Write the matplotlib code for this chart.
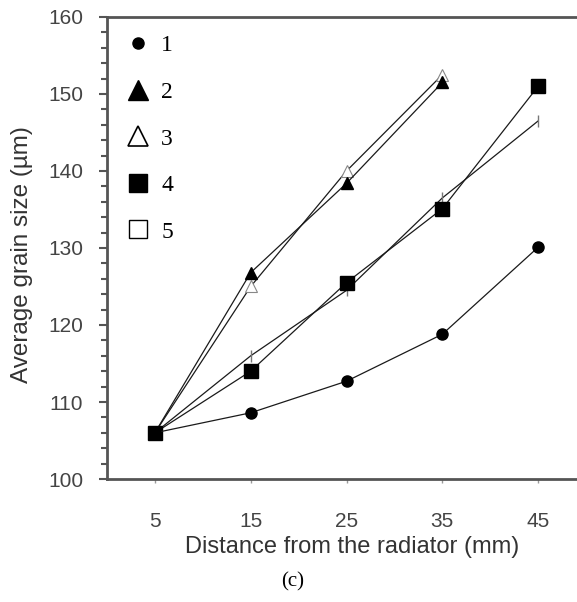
import matplotlib.pyplot as plt
from matplotlib.lines import Line2D
from matplotlib.ticker import MultipleLocator

# data
distance = [5, 15, 25, 35, 45]
size1 = [106, 108.6, 112.7, 118.8, 130.1]
size2 = [106, 126.8, 138.4, 151.5]
size3 = [106, 125.0, 140.0, 152.5]
size4 = [106, 114.0, 125.5, 135.1, 151.0]
size5 = [106, 116.0, 124.5, 136.5, 146.5]
labels = ['1', '2', '3', '4', '5']
yticks = [100, 110, 120, 130, 140, 150, 160]

fig = plt.figure(figsize=(5.77, 6.02), dpi=100)
ax = fig.add_axes([0.1854, 0.2043, 0.8303, 0.7675])

lc = '#1a1a1a'
ax.plot(distance, size5, color=lc, lw=0.9, marker='|', ms=8, mec='#777777', mew=1.0)
ax.plot(distance[:4], size3, color=lc, lw=0.9, marker='^', ms=9, mfc='white', mec='#888888', mew=0.8)
ax.plot(distance[:4], size2, color=lc, lw=0.9, marker='^', ms=9, mfc='black', mec='black')
ax.plot(distance, size4, color=lc, lw=0.9, marker='s', ms=10, mfc='black', mec='black')
ax.plot(distance, size1, color=lc, lw=0.9, marker='o', ms=8, mfc='black', mec='black')

ax.set_xlim(0, 50)
ax.set_ylim(100, 160)
ax.set_xticks(distance)
ax.set_yticks(yticks)
ax.yaxis.set_minor_locator(MultipleLocator(2))

ax.spines['right'].set_visible(False)
for s in ['left', 'bottom', 'top']:
    ax.spines[s].set_color('#555555')
    ax.spines[s].set_linewidth(2)

tc = '#444444'
ax.tick_params(axis='y', which='major', length=6, width=1.5, color='#555555', pad=11,
               labelsize=15, labelcolor=tc)
ax.tick_params(axis='y', which='minor', length=4, width=1.5, color='#555555')
ax.tick_params(axis='x', length=3, width=1, color='#999999', pad=21, labelsize=15, labelcolor=tc)
for lab in ax.get_xticklabels() + ax.get_yticklabels():
    lab.set_family('Liberation Sans')

ax.set_xlabel('Distance from the radiator (mm)', fontsize=17, color='#333333',
              family='Liberation Sans')
ax.set_ylabel('Average grain size (µm)', fontsize=17.5, color='#333333',
              family='Liberation Sans')
ax.xaxis.set_label_coords(0.511, -0.123)
ax.yaxis.set_label_coords(-0.155, 0.486)

handles = [
    Line2D([], [], ls='none', marker='o', ms=8, mfc='black', mec='black'),
    Line2D([], [], ls='none', marker='^', ms=14, mfc='black', mec='black'),
    Line2D([], [], ls='none', marker='^', ms=15, mfc='white', mec='black', mew=1.2),
    Line2D([], [], ls='none', marker='s', ms=13, mfc='black', mec='black'),
    Line2D([], [], ls='none', marker='s', ms=13, mfc='white', mec='black', mew=1.0),
]
ax.legend(handles, labels, loc='upper left', bbox_to_anchor=(0.0, 0.997), frameon=False,
          prop={'family': 'Liberation Serif', 'size': 17}, labelspacing=1.06,
          handlelength=1.2, handletextpad=0.4, borderaxespad=0.3)

fig.text(0.508, 0.033, '(c)', ha='center', va='center', fontsize=15, family='Liberation Serif')

fig.savefig('out.png', dpi=100)
